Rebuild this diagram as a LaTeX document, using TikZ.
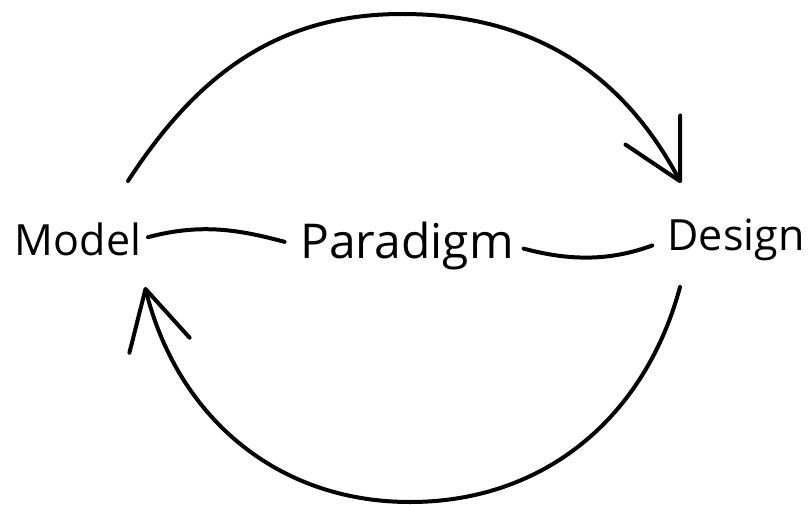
\documentclass[tikz,border=0pt]{standalone}
\usepackage{fontspec}
\setmainfont{Open Sans}
\usetikzlibrary{arrows.meta}

\begin{document}
\begin{tikzpicture}[x=1pt, y=1pt,
  word/.style={font=\fontsize{43}{52}\selectfont, inner sep=0pt},
  link/.style={line width=4pt, line cap=round},
  cycle/.style={link, -{Straight Barb[length=58pt, width=62pt, round]}}]
  \useasboundingbox (0,0) rectangle (808,504);
  %% the three words on one line
  \node[word] (model) at (78,265) {Model};
  \node[word, font=\fontsize{48}{56}\selectfont] (paradigm) at (407,258) {Paradigm};
  \node[word] (design) at (736,264) {Design};
  \draw[link, shorten <=7pt, shorten >=16pt] (model.east) to[out=15, in=165] (paradigm.west);
  \draw[link, shorten <=10pt, shorten >=16pt] (paradigm.east) to[out=-15, in=200] (design.west);
  %% upper loop: model to design
  \coordinate (topstart) at (128,323);
  \coordinate (toppeak) at (402,490);
  \coordinate (topend) at (681,321);
  \draw[cycle] (topstart) to[out=57, in=180] (toppeak) to[out=0, in=118] (topend);
  %% lower loop: design back to model
  \coordinate (botstart) at (680,217);
  \coordinate (botlow) at (410,2);
  \coordinate (botend) at (145,217);
  \draw[cycle] (botstart) to[out=-105, in=0] (botlow) to[out=180, in=-76] (botend);
\end{tikzpicture}
\end{document}
